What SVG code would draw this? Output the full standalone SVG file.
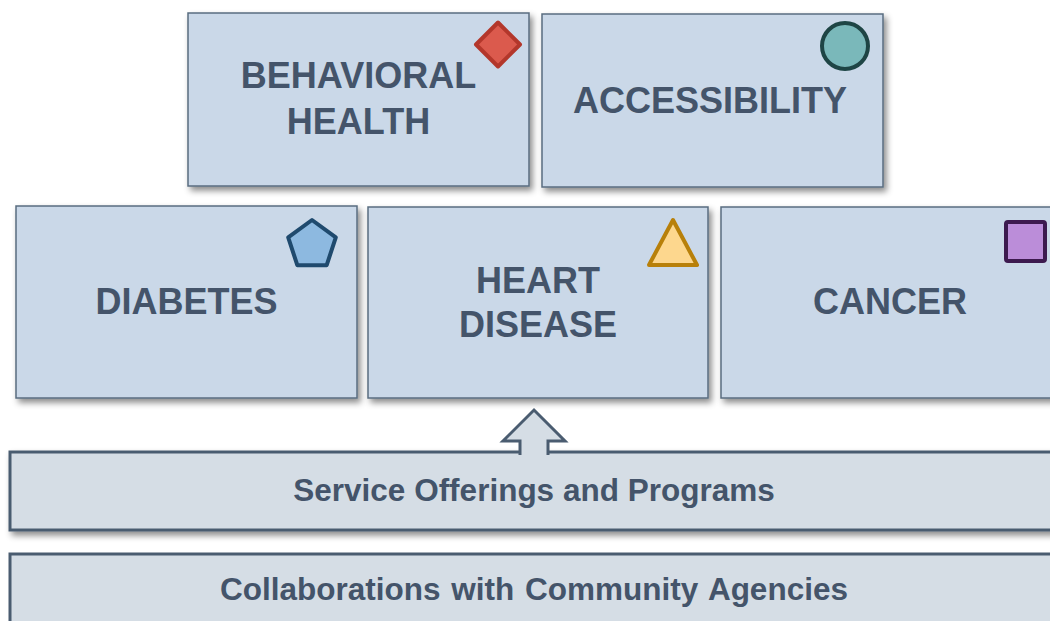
<svg xmlns="http://www.w3.org/2000/svg" width="1050" height="621" viewBox="0 0 1050 621">
  <defs>
    <filter id="sh" x="-10%" y="-10%" width="130%" height="140%">
      <feDropShadow dx="3" dy="4" stdDeviation="3" flood-color="#000" flood-opacity="0.45"/>
    </filter>
  </defs>
  <style>
    .top { fill: #CAD8E8; stroke: #5A6C80; stroke-width: 1.5; filter: url(#sh); }
    .bar { fill: #D5DDE5; stroke: #4A5C70; stroke-width: 3; }
    .big { font-family: "Liberation Sans", Arial, sans-serif; font-weight: bold; font-size: 36px; fill: #44546A; text-anchor: middle; }
    .mid { font-family: "Liberation Sans", Arial, sans-serif; font-weight: bold; font-size: 31.5px; fill: #44546A; text-anchor: middle; }
    .icon { stroke-width: 4; stroke-linejoin: round; }
  </style>
  <rect width="1050" height="621" fill="#FFFFFF"/>

  <g id="behavioral-health">
    <rect class="top" x="188" y="13" width="341" height="173"/>
    <polygon class="icon" points="498,22.5 520,44.5 498,66.5 476,44.5" fill="#DB5A4D" stroke="#B3372B"/>
    <text class="big" x="358.5" y="88">BEHAVIORAL</text>
    <text class="big" x="358.5" y="134">HEALTH</text>
  </g>

  <g id="accessibility">
    <rect class="top" x="542" y="14" width="341" height="173"/>
    <circle class="icon" cx="845" cy="46" r="23" fill="#7AB8BA" stroke="#1E4545"/>
    <text class="big" x="710" y="113">ACCESSIBILITY</text>
  </g>

  <g id="diabetes">
    <rect class="top" x="16" y="206" width="341" height="192"/>
    <polygon class="icon" points="312,220 335.8,237.3 326.7,265.2 297.3,265.2 288.2,237.3" fill="#8DB9E0" stroke="#1F4A6E"/>
    <text class="big" x="186.5" y="314">DIABETES</text>
  </g>

  <g id="heart-disease">
    <rect class="top" x="368" y="207" width="340" height="191"/>
    <polygon class="icon" points="673,220 697,265 649,265" fill="#FDD78E" stroke="#B8800A"/>
    <text class="big" x="538" y="293">HEART</text>
    <text class="big" x="538" y="337">DISEASE</text>
  </g>

  <g id="cancer">
    <rect class="top" x="721" y="207" width="338" height="191"/>
    <rect class="icon" x="1006" y="222" width="39" height="39" rx="2" fill="#BB8DD9" stroke="#3D1A4F"/>
    <text class="big" x="890" y="314">CANCER</text>
  </g>

  <g id="service-offerings">
    <rect class="bar" x="10" y="452" width="1050" height="78" filter="url(#sh)"/>
    <text class="mid" x="534" y="501">Service Offerings and Programs</text>
  </g>

  <g id="collaborations">
    <rect class="bar" x="10" y="554" width="1050" height="90"/>
    <text class="mid" x="534" y="600" word-spacing="2">Collaborations with Community Agencies</text>
  </g>

  <g id="connectors">
    <path d="M520,455 V441 H503 L534,410 L565,441 H548 V455" fill="#D5DDE5" stroke="#4A5C70" stroke-width="3" stroke-linejoin="miter"/>
  </g>
</svg>
